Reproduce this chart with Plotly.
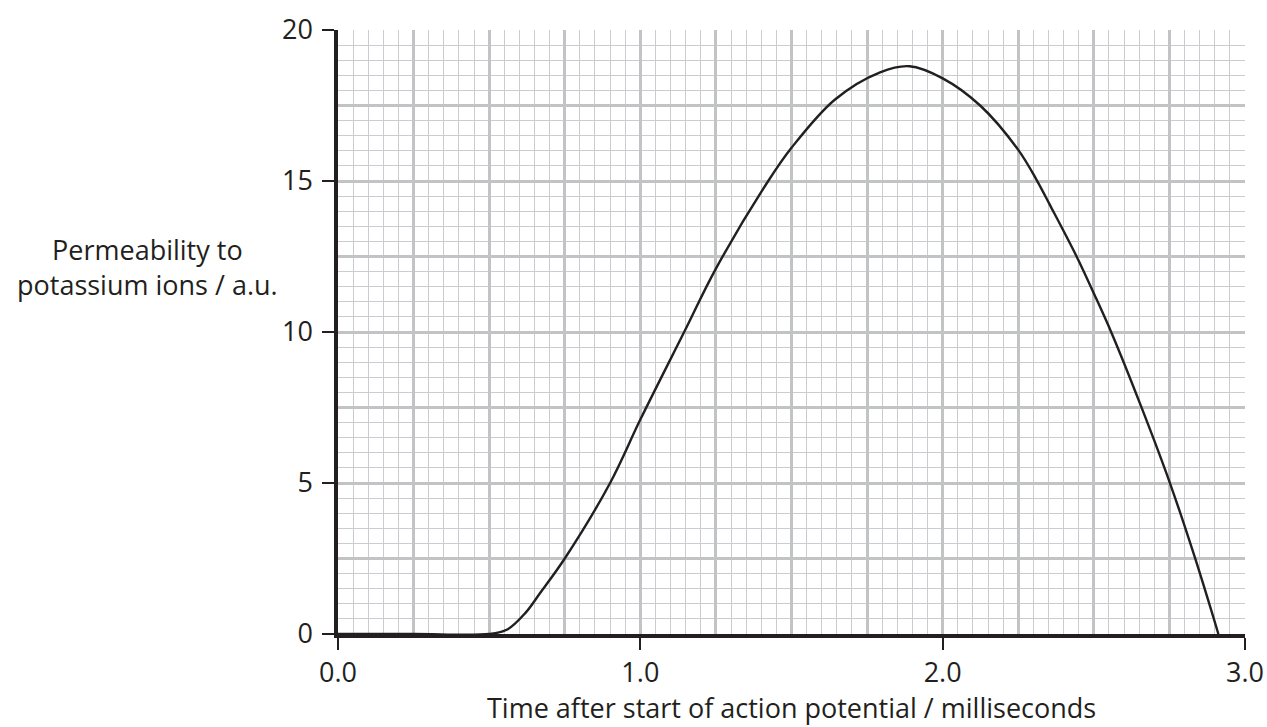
import plotly.graph_objects as go

# Data
time_ms = [0.0, 0.25, 0.5, 0.56, 0.62, 0.668, 0.75, 0.9, 1.0, 1.145, 1.25, 1.423, 1.5,
           1.644, 1.793, 1.89, 2.0, 2.124, 2.25, 2.311, 2.355, 2.443, 2.499, 2.559,
           2.659, 2.752, 2.835, 2.912]
permeability = [0.0, 0.0, 0.0, 0.15, 0.7, 1.35, 2.5, 5.0, 7.1, 10.0, 12.1, 15.0, 16.1,
                17.7, 18.6, 18.8, 18.4, 17.5, 16.03, 15.03, 14.2, 12.5, 11.3, 9.96,
                7.47, 4.99, 2.51, 0.0]

x_tick_vals = [0, 1, 2, 3]
x_tick_text = ["0.0", "1.0", "2.0", "3.0"]
y_tick_vals = [0, 5, 10, 15, 20]
y_tick_text = ["0", "5", "10", "15", "20"]

x_title = "Time after start of action potential / milliseconds"
y_title = "Permeability to<br>potassium ions / a.u."

INK = "#231f20"
MAJOR = "#c2c3c5"
MINOR = "#cbcccf"
FONT = "Open Sans"
FS = 27

fig = go.Figure()
fig.add_trace(go.Scatter(x=[], y=[], xaxis="x", yaxis="y", showlegend=False))
fig.add_trace(go.Scatter(
    x=time_ms, y=permeability, xaxis="x2", yaxis="y2", mode="lines",
    line=dict(color=INK, width=2.4, shape="spline", smoothing=1.0),
    showlegend=False, hoverinfo="skip"))

fig.update_layout(
    width=1267, height=727,
    margin=dict(l=338, r=22, t=30, b=93),
    paper_bgcolor="white", plot_bgcolor="white",
    font=dict(family=FONT, size=FS, color=INK),
    xaxis=dict(range=[0, 3], tick0=0, dtick=0.25, showgrid=True, gridcolor=MAJOR,
               gridwidth=2.5, showticklabels=False, ticks="", zeroline=False,
               showline=False, fixedrange=True, automargin=False,
               minor=dict(tick0=0, dtick=0.05, showgrid=True, gridcolor=MINOR,
                          gridwidth=1.2, ticks="")),
    yaxis=dict(range=[0, 20], tick0=0, dtick=2.5, showgrid=True, gridcolor=MAJOR,
               gridwidth=2.5, showticklabels=False, ticks="", zeroline=False,
               showline=False, fixedrange=True, automargin=False,
               minor=dict(tick0=0, dtick=0.5, showgrid=True, gridcolor=MINOR,
                          gridwidth=1.2, ticks="")),
    xaxis2=dict(overlaying="x", anchor="y2", side="bottom", range=[0, 3],
                tickmode="array", tickvals=x_tick_vals, ticktext=x_tick_text,
                ticks="outside", ticklen=12, tickwidth=1.5, tickcolor=INK,
                showline=True, linewidth=3.5, linecolor=INK, showgrid=False,
                zeroline=False, automargin=False, fixedrange=True,
                tickfont=dict(family=FONT, size=FS, color=INK)),
    yaxis2=dict(overlaying="y", anchor="x2", side="left", range=[0, 20],
                tickmode="array", tickvals=y_tick_vals, ticktext=y_tick_text,
                ticks="outside", ticklen=12, tickwidth=1.5, tickcolor=INK,
                showline=True, linewidth=3.5, linecolor=INK, showgrid=False,
                zeroline=False, automargin=False, fixedrange=True,
                ticklabelstandoff=4,
                tickfont=dict(family=FONT, size=FS, color=INK)),
    annotations=[
        dict(text=y_title, xref="paper", yref="paper", x=-0.2095, y=0.6076,
             xanchor="center", yanchor="middle", showarrow=False, align="center",
             font=dict(family=FONT, size=FS, color=INK)),
        dict(text=x_title, xref="paper", yref="paper", x=0.5, y=-0.1225,
             xanchor="center", yanchor="middle", showarrow=False,
             font=dict(family=FONT, size=FS, color=INK)),
    ],
)

fig.write_html("out.html")
